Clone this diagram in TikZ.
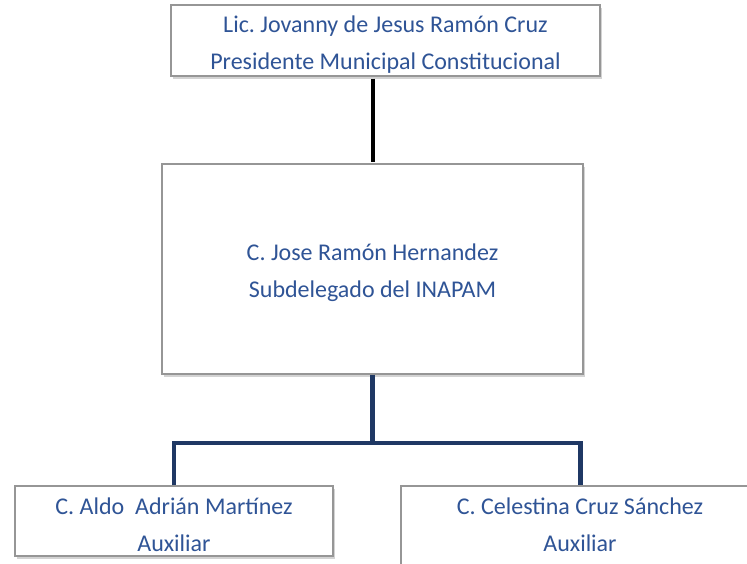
\documentclass[tikz,border=0pt]{standalone}
\usepackage{fontspec}
\setmainfont[Ligatures=TeX,Contextuals=NoAlternate]{Carlito}
\usetikzlibrary{shadows}
\definecolor{txtblue}{RGB}{47,84,150}
\definecolor{navy}{RGB}{31,56,100}
\definecolor{boxgray}{RGB}{150,150,150}
\newcommand{\hstrut}{\rule{0pt}{24pt}}
\frenchspacing
\begin{document}
\begin{tikzpicture}[x=1pt, y=-1pt,
  every node/.style={font=\fontsize{24}{37}\selectfont, text=txtblue, align=center, inner sep=0pt},
  orgbox/.style={draw=boxgray, line width=1.2pt, fill=white,
    drop shadow={shadow xshift=1.5pt, shadow yshift=-2.5pt, opacity=.35}},
  blackline/.style={line width=4pt, black, shorten <=2pt, shorten >=1.5pt},
  orgline/.style={line width=4.5pt, navy, line join=miter}]
\useasboundingbox (0,0) rectangle (747,563);
% boxes
\node[orgbox, minimum width=429pt, minimum height=71pt] (pres) at (385.5,40.5)
  {\hstrut Lic. Jovanny de Jesus Ramón Cruz\\Presidente Municipal Constitucional};
\node[orgbox, minimum width=421pt, minimum height=210pt] (sub) at (372.5,269)
  {\hstrut C. Jose Ramón Hernandez\\Subdelegado del INAPAM};
\node[orgbox, minimum width=318pt, minimum height=70pt] (aux1) at (174,521)
  {\hstrut C. Aldo~~Adrián Martínez\\Auxiliar};
\node[orgbox, minimum width=359pt, minimum height=154pt] (aux2) at (580.5,563){};
\node (aux2txt) at (580,521) {\hstrut C. Celestina Cruz Sánchez\\Auxiliar};
% lines
\coordinate (fork) at (372.5,443);
\draw[blackline] (sub.north |- pres.south) -- (sub.north);
\draw[orgline] (sub.south) -- (fork);
\draw[orgline] (aux1.north) |- (fork) -| (aux2.north);
\end{tikzpicture}
\end{document}
